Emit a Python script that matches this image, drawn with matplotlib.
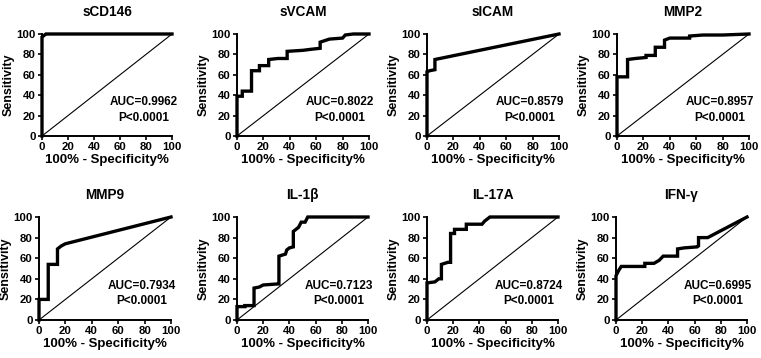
import matplotlib
matplotlib.use("Agg")
import matplotlib.pyplot as plt

plt.rcParams['font.family'] = ['Liberation Sans', 'DejaVu Sans']
plt.rcParams['font.weight'] = 'bold'

titles = ['sCD146', 'sVCAM', 'sICAM', 'MMP2', 'MMP9', 'IL-1β', 'IL-17A', 'IFN-γ']
auc_vals = ['0.9962', '0.8022', '0.8579', '0.8957', '0.7934', '0.7123', '0.8724', '0.6995']

# ROC curves (100% - specificity, sensitivity)
scd146_x = [0, 0, 2, 3, 100]
scd146_y = [0, 97, 99, 100, 100]

svcam_x = [0, 0, 4, 4, 11, 11, 17, 17, 24, 24, 31, 38, 38, 50, 56, 63, 63, 70, 80, 82, 88, 100]
svcam_y = [0, 39, 39, 44, 44, 64, 64, 69, 69, 75, 76, 76, 83, 84, 85, 86, 92, 95, 96, 99, 100, 100]

sicam_x = [0, 0, 2, 6, 6, 100]
sicam_y = [0, 63, 64, 65, 75, 100]

mmp2_x = [0, 0, 8, 8, 14, 22, 22, 29, 29, 36, 36, 40, 55, 55, 65, 80, 100]
mmp2_y = [0, 58, 58, 75, 76, 77, 79, 79, 87, 87, 94, 96, 96, 98, 99, 99, 100]

mmp9_x = [0, 0, 7, 7, 14, 14, 17, 20, 100]
mmp9_y = [0, 20, 20, 54, 54, 69, 72, 74, 100]

il1b_x = [0, 0, 6, 6, 13, 13, 17, 20, 31, 32, 32, 37, 38, 40, 43, 43, 47, 49, 52, 54, 100]
il1b_y = [0, 13, 13, 14, 14, 31, 32, 34, 35, 35, 62, 64, 68, 70, 71, 86, 90, 95, 95, 100, 100]

il17a_x = [0, 0, 6, 9, 11, 11, 16, 18, 18, 21, 21, 26, 30, 30, 42, 44, 48, 100]
il17a_y = [0, 36, 37, 40, 40, 54, 56, 56, 84, 84, 88, 88, 88, 93, 93, 96, 100, 100]

ifng_x = [0, 0, 2, 4, 22, 22, 29, 33, 36, 47, 47, 52, 62, 63, 63, 70, 100]
ifng_y = [0, 43, 48, 52, 52, 55, 55, 58, 62, 62, 69, 70, 71, 72, 80, 80, 100]

curves = [(scd146_x, scd146_y), (svcam_x, svcam_y), (sicam_x, sicam_y), (mmp2_x, mmp2_y),
          (mmp9_x, mmp9_y), (il1b_x, il1b_y), (il17a_x, il17a_y), (ifng_x, ifng_y)]

W, H = 761, 358
fig = plt.figure(figsize=(W / 100, H / 100), dpi=100)

# axes boxes in pixels: left, top, width, height
boxes = [(42, 34, 130, 102), (237, 34, 132, 102), (427, 34, 132, 102), (617, 34, 132, 102),
         (39, 217, 132, 103), (237, 217, 131, 103), (427, 217, 131, 103), (616, 217, 131, 103)]

for i, (cx, cy) in enumerate(curves):
    l, t, w, h = boxes[i]
    ax = fig.add_axes([l / W, 1 - (t + h) / H, w / W, h / H])
    ax.plot([0, 100], [0, 100], color='black', lw=0.8)
    ax.plot(cx, cy, color='black', lw=2.4, solid_joinstyle='miter', clip_on=False)
    ax.set_xlim(0, 100)
    ax.set_ylim(0, 100)
    ax.set_xticks(range(0, 101, 20))
    ax.set_yticks(range(0, 101, 20))
    for s in ['top', 'right']:
        ax.spines[s].set_visible(False)
    for s in ['left', 'bottom']:
        ax.spines[s].set_linewidth(1.4)
    ax.tick_params(direction='out', length=3, width=1.2, labelsize=8.2, pad=1.5)
    for lab in ax.get_xticklabels() + ax.get_yticklabels():
        lab.set_fontweight('bold')
    ax.set_title(titles[i], fontsize=9.8, fontweight='bold', pad=13)
    ax.set_xlabel('100% - Specificity%', fontsize=9.5, fontweight='bold', labelpad=1)
    ax.set_ylabel('Sensitivity', fontsize=9, fontweight='bold', labelpad=1)
    ax.text(78, 33, 'AUC=' + auc_vals[i], ha='center', va='center', fontsize=8.5, fontweight='bold')
    ax.text(78, 18, 'P<0.0001', ha='center', va='center', fontsize=8.5, fontweight='bold')

fig.savefig('out.png', dpi=100)
